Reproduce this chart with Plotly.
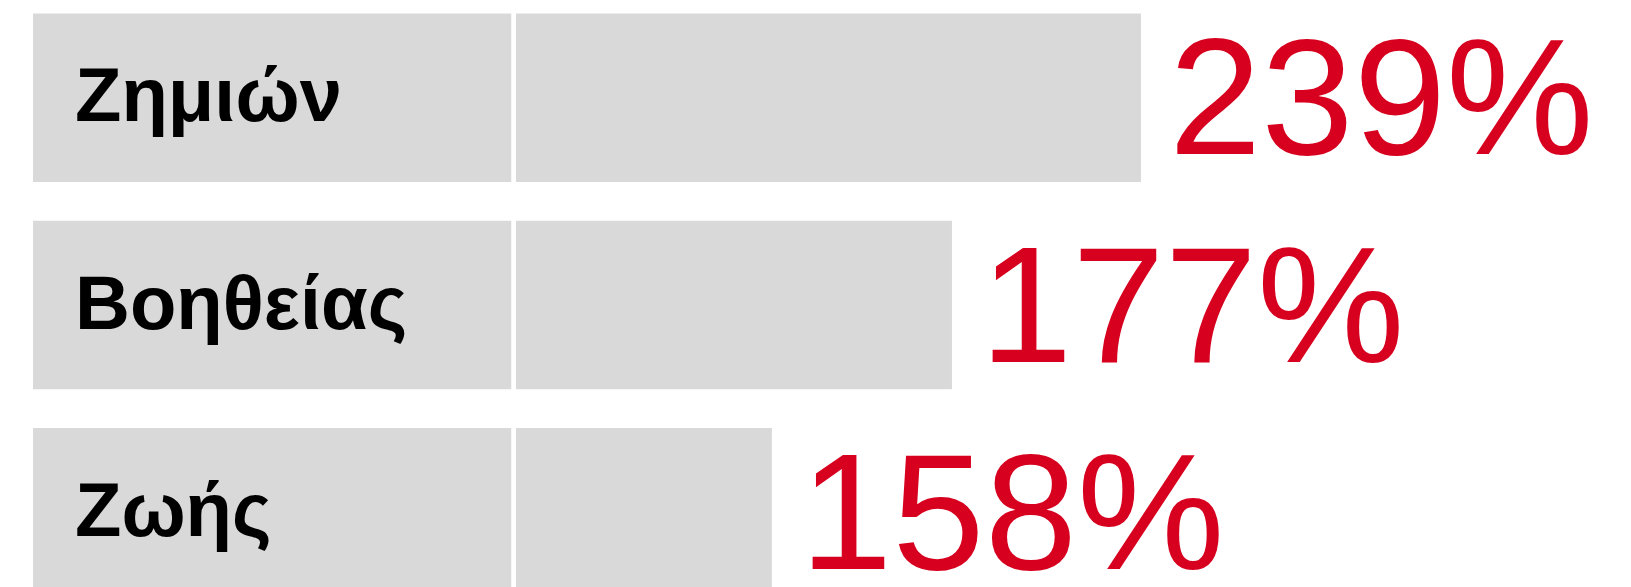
import plotly.graph_objects as go

# ---- data ----
categories = ["Ζημιών", "Βοηθείας", "Ζωής"]
value_labels = ["239%", "177%", "158%"]
bar_lengths = [56.05, 39.1, 22.95]   # visual bar length, % of track

GRAY = "#d9d9d9"
RED = "#d7001f"
W, H = 1631, 587

fig = go.Figure()

# label boxes
fig.add_trace(go.Bar(
    x=[1] * len(categories), y=categories, orientation="h",
    marker=dict(color=GRAY, line=dict(width=0)),
    width=0.813, xaxis="x", yaxis="y", hoverinfo="skip", showlegend=False,
))
# value bars
fig.add_trace(go.Bar(
    x=bar_lengths, y=categories, orientation="h",
    marker=dict(color=GRAY, line=dict(width=0)),
    width=0.813, xaxis="x2", yaxis="y", hoverinfo="skip", showlegend=False,
))

annotations = []
for cat in categories:
    annotations.append(dict(
        x=0, y=cat, xref="x", yref="y", text=f"<b>{cat}</b>",
        xanchor="left", yanchor="middle", xshift=40, yshift=3,
        showarrow=False,
        font=dict(family="Arial, Liberation Sans, sans-serif", size=76, color="#000000"),
    ))
for cat, val, lab in zip(categories, bar_lengths, value_labels):
    annotations.append(dict(
        x=val, y=cat, xref="x2", yref="y", text=lab,
        xanchor="left", yanchor="middle", xshift=26, yshift=1,
        showarrow=False,
        font=dict(family="Arial, Liberation Sans, sans-serif", size=166, color=RED),
    ))

fig.update_layout(
    width=W, height=H,
    margin=dict(l=0, r=0, t=0, b=0),
    paper_bgcolor="white", plot_bgcolor="white",
    barmode="overlay",
    xaxis=dict(domain=[33 / W, 511.5 / W], range=[0, 1], visible=False, fixedrange=True),
    xaxis2=dict(domain=[516 / W, 1], range=[0, 100], visible=False, fixedrange=True),
    yaxis=dict(type="category", categoryarray=categories, range=[2.3607, -0.4717],
               visible=False, fixedrange=True),
    annotations=annotations,
    showlegend=False,
)

fig.write_html(
    "out.html",
    config={"displayModeBar": False},
    post_script="document.body.style.margin='0';document.body.style.overflow='hidden';",
)
